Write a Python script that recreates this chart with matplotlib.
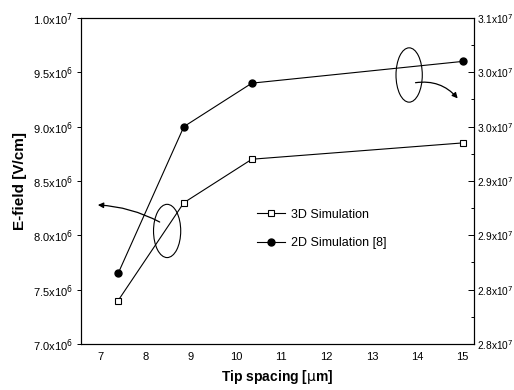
import matplotlib
matplotlib.use("Agg")
import matplotlib.pyplot as plt
from matplotlib.patches import Ellipse
from matplotlib.ticker import FixedLocator, MultipleLocator

# ---- data ----
x_3d = [7.4, 8.85, 10.35, 15.0]
e_3d = [7.40e6, 8.30e6, 8.70e6, 8.85e6]
x_2d = [7.4, 8.85, 10.35, 15.0]
e_2d = [7.65e6, 9.00e6, 9.40e6, 9.60e6]

x_ticks = [7, 8, 9, 10, 11, 12, 13, 14, 15]
left_ticks = [7.0e6, 7.5e6, 8.0e6, 8.5e6, 9.0e6, 9.5e6, 1.0e7]
left_labels = [r"7.0x10$^6$", r"7.5x10$^6$", r"8.0x10$^6$", r"8.5x10$^6$",
               r"9.0x10$^6$", r"9.5x10$^6$", r"1.0x10$^7$"]
right_ticks = [2.80e7, 2.85e7, 2.90e7, 2.95e7, 3.00e7, 3.05e7, 3.10e7]
right_labels = [r"2.8x10$^7$", r"2.8x10$^7$", r"2.9x10$^7$", r"2.9x10$^7$",
                r"3.0x10$^7$", r"3.0x10$^7$", r"3.1x10$^7$"]

plt.rcParams['font.family'] = ['Liberation Sans Narrow', 'Liberation Sans', 'DejaVu Sans']
plt.rcParams['mathtext.fontset'] = 'custom'
plt.rcParams['mathtext.rm'] = 'Liberation Sans Narrow'
plt.rcParams['mathtext.it'] = 'Liberation Sans Narrow'

fig = plt.figure(figsize=(5.14, 3.90), dpi=100)
ax = fig.add_axes([0.1576, 0.118, 0.7645, 0.836])

ax.plot(x_3d, e_3d, color='black', lw=0.8, marker='s', markersize=4.5,
        markerfacecolor='white', markeredgecolor='black', markeredgewidth=0.8,
        label='3D Simulation')
ax.plot(x_2d, e_2d, color='black', lw=0.8, marker='o', markersize=5,
        markerfacecolor='black', markeredgecolor='black',
        label='2D Simulation [8]')

ax.set_xlim(6.58, 15.25)
ax.set_ylim(7.0e6, 1.0e7)
ax.xaxis.set_major_locator(FixedLocator(x_ticks))
ax.set_xticklabels([str(t) for t in x_ticks])
ax.yaxis.set_major_locator(FixedLocator(left_ticks))
ax.set_yticklabels(left_labels)
ax.tick_params(axis='both', labelsize=8, length=3, width=0.7, direction='out', pad=3)
ax.tick_params(axis='x', length=0, pad=6)

ax2 = ax.twinx()
ax2.set_ylim(2.80e7, 3.10e7)
ax2.yaxis.set_major_locator(FixedLocator(right_ticks))
ax2.set_yticklabels(right_labels)
ax2.yaxis.set_minor_locator(MultipleLocator(0.025e7))
ax2.tick_params(axis='y', labelsize=7.3, length=4, width=0.7, direction='in', pad=2)
ax2.tick_params(axis='y', which='minor', length=2.5, width=0.7, direction='in')

for a in (ax, ax2):
    for s in a.spines.values():
        s.set_linewidth(0.8)

ax.set_xlabel(r"Tip spacing [$\mu$m]", fontsize=10, fontweight='bold',
              family=['Liberation Sans', 'DejaVu Sans'], labelpad=4)
ax.set_ylabel("E-field [V/cm]", fontsize=11, fontweight='bold',
              family=['Liberation Sans', 'DejaVu Sans'], labelpad=4)

leg = ax.legend(loc='upper left', bbox_to_anchor=(0.42, 0.45), frameon=False,
                handlelength=2.2, handletextpad=0.5, labelspacing=1.35,
                prop={'family': ['Liberation Sans', 'DejaVu Sans'], 'size': 9})

# ellipses and arrows
ax.add_patch(Ellipse((8.48, 8.04e6), 0.6, 0.49e6, fill=False, lw=0.8, ec='black'))
ax.add_patch(Ellipse((13.82, 9.475e6), 0.58, 0.50e6, fill=False, lw=0.8, ec='black'))
ax.annotate("", xy=(6.89, 8.28e6), xytext=(8.37, 8.11e6),
            arrowprops=dict(arrowstyle='-|>', color='black', lw=0.9,
                            mutation_scale=8, connectionstyle='arc3,rad=0.12'))
ax.annotate("", xy=(14.93, 9.24e6), xytext=(13.9, 9.40e6),
            arrowprops=dict(arrowstyle='-|>', color='black', lw=0.9,
                            mutation_scale=8, connectionstyle='arc3,rad=-0.3'))

fig.savefig("out.png", dpi=100)
